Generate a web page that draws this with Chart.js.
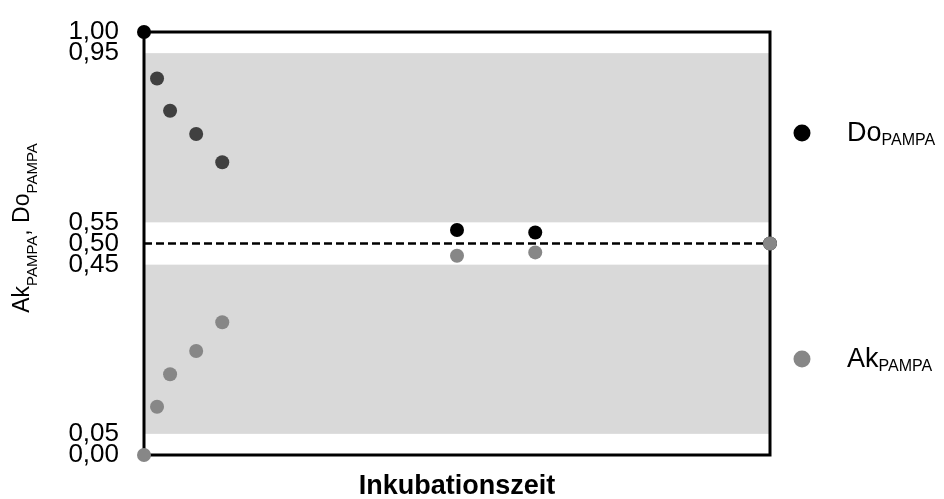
<!DOCTYPE html>
<html>
<head>
<meta charset="utf-8">
<script src="https://cdn.jsdelivr.net/npm/chart.js@4.4.1/dist/chart.umd.min.js"></script>
<style>
  html, body { margin: 0; padding: 0; background: #fff; }
  #wrap { width: 944px; height: 499px; position: relative; }
</style>
</head>
<body>
<div id="wrap"><canvas id="chart"></canvas></div>
<script>
// Incubation time (h) for each measurement
const timePoints = [0, 1, 2, 4, 6, 24, 30, 48];
// Donor fraction Do_PAMPA and acceptor fraction Ak_PAMPA
const doValues = [1.0, 0.89, 0.814, 0.759, 0.692, 0.532, 0.526, 0.5];
const akValues = [0.0, 0.114, 0.191, 0.246, 0.314, 0.471, 0.479, 0.5];
// Y tick labels shown on the axis
const yTicks = [0, 0.05, 0.45, 0.5, 0.55, 0.95, 1];
// Shaded ranges [from, to]
const bands = [[0.05, 0.45], [0.55, 0.95]];
const equilibrium = 0.5;

const FONT = "'Liberation Sans', Arial, sans-serif";

// Shaded bands and the frame, under the points
const bandsPlugin = {
    id: 'bands',
    beforeDatasetsDraw(chart) {
        const { ctx, chartArea, scales } = chart;
        ctx.save();
        ctx.fillStyle = '#d9d9d9';
        bands.forEach(([a, b]) => {
            const y1 = scales.y.getPixelForValue(b);
            const y2 = scales.y.getPixelForValue(a);
            ctx.fillRect(chartArea.left, y1, chartArea.right - chartArea.left, y2 - y1);
        });
        ctx.strokeStyle = '#000';
        ctx.lineWidth = 3;
        ctx.strokeRect(chartArea.left, chartArea.top, chartArea.right - chartArea.left, chartArea.bottom - chartArea.top);
        ctx.restore();
    }
};

// Draws text with a subscript part, returns width
function subText(ctx, main, sub, x, y, mainSize, subSize, subDrop, measureOnly) {
    ctx.font = mainSize + 'px ' + FONT;
    const w1 = ctx.measureText(main).width;
    ctx.font = subSize + 'px ' + FONT;
    const w2 = ctx.measureText(sub).width;
    if (!measureOnly) {
        ctx.font = mainSize + 'px ' + FONT;
        ctx.fillText(main, x, y);
        ctx.font = subSize + 'px ' + FONT;
        ctx.fillText(sub, x + w1, y + subDrop);
    }
    return w1 + w2;
}

// Custom legend and y axis title (both need subscripts)
const labelsPlugin = {
    id: 'labels',
    afterDraw(chart) {
        const { ctx } = chart;
        ctx.save();
        ctx.fillStyle = '#000';
        ctx.textBaseline = 'alphabetic';

        // legend
        const entries = [
            { main: 'Do', color: '#000000', y: 133 },
            { main: 'Ak', color: '#878787', y: 359 }
        ];
        entries.forEach(e => {
            ctx.fillStyle = e.color;
            ctx.beginPath();
            ctx.arc(802, e.y, 8.5, 0, Math.PI * 2);
            ctx.fill();
            ctx.fillStyle = '#000';
            subText(ctx, e.main, 'PAMPA', 847, e.y + 8, 27, 16, 4);
        });

        // y axis title, rotated
        ctx.translate(29, 228);
        ctx.rotate(-Math.PI / 2);
        const parts = [['Ak', 'PAMPA'], [', Do', 'PAMPA']];
        let total = 0;
        parts.forEach(p => { total += subText(ctx, p[0], p[1], 0, 0, 23, 15, 8, true); });
        let x = -total / 2;
        parts.forEach(p => { x += subText(ctx, p[0], p[1], x, 0, 23, 15, 8, false); });
        ctx.restore();
    }
};

const ctx = document.getElementById('chart').getContext('2d');

new Chart(ctx, {
    type: 'scatter',
    data: {
        datasets: [
            {
                label: 'Gleichgewicht',
                data: [
                    { x: timePoints[0], y: equilibrium },
                    { x: timePoints[timePoints.length - 1], y: equilibrium }
                ],
                showLine: true,
                borderColor: '#000',
                borderWidth: 2.5,
                borderDash: [8, 4],
                pointRadius: 0,
                order: 3,
                clip: false
            },
            {
                label: 'Do',
                data: timePoints.map((t, i) => ({ x: t, y: doValues[i] })),
                // early measurements shown in dark grey, others black
                pointBackgroundColor: c => (c.raw && c.raw.x > 0 && c.raw.x < 24) ? '#404040' : '#000000',
                pointBorderWidth: 0,
                pointRadius: 7,
                order: 2,
                clip: false
            },
            {
                label: 'Ak',
                data: timePoints.map((t, i) => ({ x: t, y: akValues[i] })),
                pointBackgroundColor: '#878787',
                pointBorderWidth: 0,
                pointRadius: 7,
                order: 1,
                clip: false
            }
        ]
    },
    options: {
        responsive: true,
        maintainAspectRatio: false,
        animation: false,
        layout: { padding: { top: 32, right: 174, left: 0, bottom: 0 } },
        plugins: {
            legend: { display: false },
            tooltip: { enabled: false }
        },
        scales: {
            x: {
                type: 'linear',
                min: 0,
                max: 48,
                grid: { display: false, drawTicks: false },
                border: { display: false },
                ticks: { display: false },
                title: {
                    display: true,
                    text: 'Inkubationszeit',
                    color: '#000',
                    font: { family: FONT, size: 27, weight: 'bold', lineHeight: 0.9 },
                    padding: 0
                },
                afterFit: s => { s.height = 44; s.paddingLeft = 0; s.paddingRight = 0; }
            },
            y: {
                min: 0,
                max: 1,
                grid: { display: false, drawTicks: false },
                border: { display: false },
                afterBuildTicks: s => { s.ticks = yTicks.map(v => ({ value: v })); },
                ticks: {
                    autoSkip: false,
                    padding: 25,
                    color: '#000',
                    font: { family: FONT, size: 26 },
                    callback: v => v.toFixed(2).replace('.', ',')
                },
                afterFit: s => { s.width = 144; s.paddingTop = 0; s.paddingBottom = 0; }
            }
        }
    },
    plugins: [bandsPlugin, labelsPlugin]
});
</script>
</body>
</html>
